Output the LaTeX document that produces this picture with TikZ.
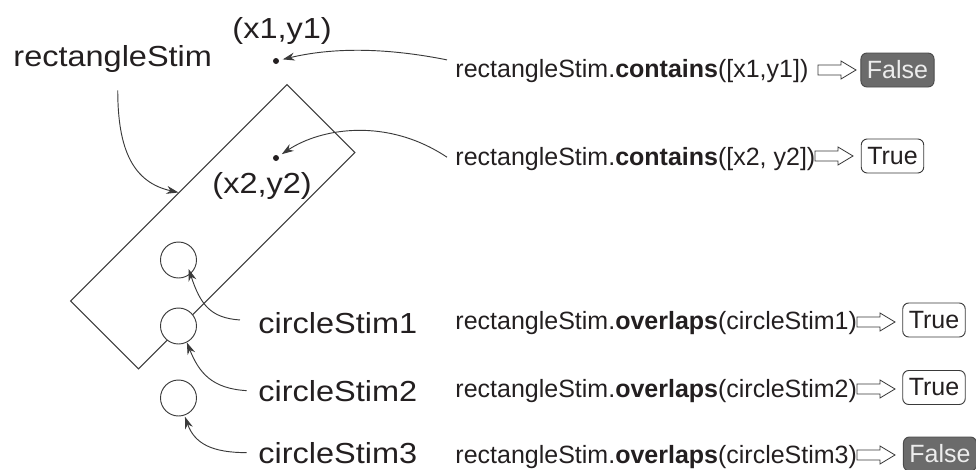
\documentclass[tikz,border=0pt]{standalone}
\usepackage{fontspec}
\setmainfont{Liberation Sans}
\newfontfamily\bigfont[FakeStretch=1.12]{Liberation Sans}
\newfontfamily\callfont{Liberation Sans}
\usetikzlibrary{arrows.meta}

\definecolor{ink}{HTML}{231F20}
\definecolor{linegray}{HTML}{3A3A3A}
\definecolor{falsefill}{HTML}{6B6B6B}

\tikzset{
    stimtext/.style={inner sep=0, text=ink, font=\bigfont\fontsize{21.75}{26}\selectfont},
    calltext/.style={inner sep=0, text=ink, font=\callfont\fontsize{18.75}{22}\selectfont},
    truebox/.style={draw=linegray, fill=white, rounded corners=4.5pt, inner xsep=4.5pt,
        inner ysep=0, minimum height=25.5pt, text=ink, font=\fontsize{18.75}{22}\selectfont},
    falsebox/.style={truebox, fill=falsefill, draw=falsefill!70!black, text=white!93!black},
    stimcircle/.style={circle, draw=linegray, fill=white, minimum size=27pt, inner sep=0},
    point/.style={circle, fill=ink, minimum size=4.5pt, inner sep=0},
    pointer/.style={draw=linegray, -{Stealth[length=9pt,width=6pt]}},
    outarrow/.style={draw=linegray, fill=white, line width=0.6pt}
}

% hollow arrow between a call and its result
\newcommand\resultarrow[1]{%
    \draw[outarrow] (#1) ++(0,-5) -- ++(23,0) -- ++(0,-4) -- ++(15,9)
        -- ++(-15,9) -- ++(0,-4) -- ++(-23,0) -- cycle;}

\begin{document}
\begin{tikzpicture}[x=0.75pt, y=-0.75pt, line width=0.7pt]

    \useasboundingbox (0,0) rectangle (976,469);

    % the stimuli
    \node[draw=linegray, rotate=45, minimum width=229.5pt, minimum height=72pt,
        inner sep=0] (stimrect) at (212.75,226.75) {};
    \node[stimcircle] (c1) at (178.5,260) {};
    \node[stimcircle] (c2) at (178.5,326) {};
    \node[stimcircle] (c3) at (178.5,398) {};
    \node[point] (d1) at (276,61) {};
    \node[point] (d2) at (276,158) {};

    % names
    \node[stimtext, anchor=base west] (rectname) at (13,66) {rectangleStim};
    \node[stimtext, anchor=base west] (p1) at (232,38) {(x1,y1)};
    \node[stimtext, anchor=base west] (p2) at (212,193) {(x2,y2)};
    \node[stimtext, anchor=base west] (cs1) at (258,333) {circleStim1};
    \node[stimtext, anchor=base west] (cs2) at (258,401) {circleStim2};
    \node[stimtext, anchor=base west] (cs3) at (258,463) {circleStim3};

    % calls
    \node[calltext, anchor=base west] (ct1) at (455,77) {rectangleStim.\textbf{contains}([x1,y1])};
    \node[calltext, anchor=base west] (ct2) at (455,165) {rectangleStim.\textbf{contains}([x2, y2])};
    \node[calltext, anchor=base west] (ov1) at (455,329) {rectangleStim.\textbf{overlaps}(circleStim1)};
    \node[calltext, anchor=base west] (ov2) at (455,397) {rectangleStim.\textbf{overlaps}(circleStim2)};
    \node[calltext, anchor=base west] (ov3) at (455,463) {rectangleStim.\textbf{overlaps}(circleStim3)};

    % results
    \coordinate (a1) at (818,70);
    \coordinate (a2) at (815,156);
    \coordinate (a3) at (857,322);
    \coordinate (a4) at (857,389);
    \coordinate (a5) at (857,455);
    \resultarrow{a1}
    \resultarrow{a2}
    \resultarrow{a3}
    \resultarrow{a4}
    \resultarrow{a5}
    \node[falsebox] (r1) at (897.5,70) {False};
    \node[truebox] (r2) at (892.5,156) {True};
    \node[truebox] (r3) at (934,320) {True};
    \node[truebox] (r4) at (934,387.5) {True};
    \node[falsebox] (r5) at (940,454) {False};

    % pointers
    \draw[pointer] ([xshift=3.75pt,yshift=-13.5pt]rectname.south)
        .. controls +(0,60) and +(-45,-10) .. (stimrect.north);
    \draw[pointer, shorten >=2.6pt] ([xshift=-6pt,yshift=8pt]ct1.west)
        .. controls +(-70,-14) and +(50,-12) .. (d1);
    \draw[pointer, shorten >=2.6pt] ([xshift=-6pt,yshift=1pt]ct2.west)
        .. controls +(-60,-40) and +(45,-30) .. (d2);
    \draw[pointer, shorten >=-4pt] ([xshift=-13.5pt,yshift=2pt]cs1.west)
        .. controls +(-30,-2) and +(10,30) .. (c1.-50);
    \draw[pointer] ([xshift=-8.5pt]cs2.west)
        .. controls +(-35,-2) and +(12,30) .. (c2.-63);
    \draw[pointer, shorten >=1pt] ([xshift=-8.5pt]cs3.west)
        .. controls +(-35,0) and +(10,28) .. (c3.-71);

\end{tikzpicture}
\end{document}
